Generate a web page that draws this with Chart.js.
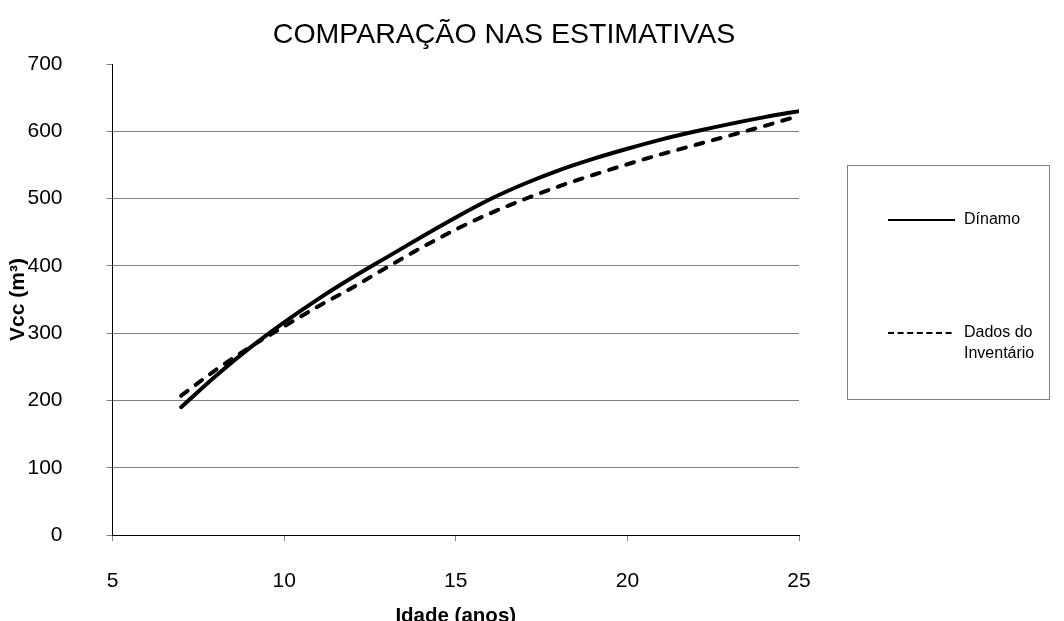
<!DOCTYPE html>
<html>
<head>
<meta charset="utf-8">
<script src="https://cdn.jsdelivr.net/npm/chart.js@4.4.1/dist/chart.umd.min.js"></script>
<style>
  html, body { margin: 0; padding: 0; background: #fff; }
</style>
</head>
<body>
<canvas id="chEst" width="1064" height="621"></canvas>
<script>
// ---- dados ----
const TITULO = 'COMPARAÇÃO NAS ESTIMATIVAS';
const idades = [7, 8, 9, 10, 11, 12, 13, 14, 15, 16, 17, 18, 19, 20, 21, 22, 23, 24, 25];
const dinamo = [190, 236, 278, 316, 351, 383, 413, 443, 472, 499, 522, 542, 559, 574, 588, 600, 611, 621, 630];
const inventario = [207, 245, 279, 310, 340, 368, 398, 427, 454, 478, 499, 518, 535, 551, 566, 580, 594, 608, 623];
const xTicks = [5, 10, 15, 20, 25];
const yTicks = [0, 100, 200, 300, 400, 500, 600, 700];
const nomes = ['Dínamo', 'Dados do Inventário'];

const FONT = "'Liberation Sans', Arial, sans-serif";
const pts = ys => idades.map((x, i) => ({ x, y: ys[i] }));

// título e legenda desenhados à mão (posições do Excel)
const extras = {
  id: 'extras',
  afterDraw(chart) {
    const c = chart.ctx;
    c.save();
    c.fillStyle = '#000';
    c.textAlign = 'center';
    c.textBaseline = 'alphabetic';
    c.font = `28.5px ${FONT}`;
    c.fillText(TITULO, 504, 43);

    // caixa da legenda
    c.strokeStyle = '#808080';
    c.lineWidth = 1;
    c.strokeRect(847.5, 165.5, 202, 234);

    c.strokeStyle = '#000';
    c.lineWidth = 2;
    c.beginPath(); c.moveTo(888, 220); c.lineTo(955, 220); c.stroke();
    c.setLineDash([6, 3.6]);
    c.beginPath(); c.moveTo(888, 333); c.lineTo(955, 333); c.stroke();
    c.setLineDash([]);

    c.font = `16px ${FONT}`;
    c.textAlign = 'left';
    c.textBaseline = 'middle';
    c.fillText(nomes[0], 964, 220);
    c.fillText('Dados do', 964, 333);
    c.fillText('Inventário', 964, 354);
    c.restore();
  }
};

new Chart(document.getElementById('chEst'), {
  type: 'line',
  data: {
    datasets: [
      { label: nomes[0], data: pts(dinamo), borderColor: '#000', borderWidth: 4,
        borderCapStyle: 'round', pointRadius: 0, cubicInterpolationMode: 'monotone' },
      { label: nomes[1], data: pts(inventario), borderColor: '#000', borderWidth: 4,
        borderDash: [8, 10], borderCapStyle: 'round', pointRadius: 0, cubicInterpolationMode: 'monotone' }
    ]
  },
  options: {
    responsive: false,
    animation: false,
    layout: { padding: { top: 64, right: 265, left: 0, bottom: 0 } },
    plugins: { legend: { display: false }, title: { display: false }, tooltip: { enabled: false } },
    scales: {
      x: {
        type: 'linear', min: 5, max: 25,
        afterBuildTicks: s => { s.ticks = xTicks.map(v => ({ value: v })); },
        afterFit: s => { s.height = 86; },
        grid: { drawOnChartArea: false, drawTicks: true, tickLength: 6, tickColor: '#808080' },
        border: { color: '#000', width: 1 },
        ticks: { color: '#000', font: { family: FONT, size: 21 }, padding: 28, maxRotation: 0 },
        title: { display: true, text: 'Idade (anos)', color: '#000', font: { family: FONT, size: 20.5, weight: 'bold' }, padding: { top: 0, bottom: -8 } }
      },
      y: {
        min: 0, max: 700,
        afterBuildTicks: s => { s.ticks = yTicks.map(v => ({ value: v })); },
        afterFit: s => { s.width = 112.5; },
        grid: {
          color: ctx => (ctx.tick && ctx.tick.value === 700) ? 'rgba(0,0,0,0)' : '#808080',
          tickColor: '#808080', tickLength: 6, lineWidth: 1
        },
        border: { color: '#000', width: 1 },
        ticks: { color: '#000', font: { family: FONT, size: 21 }, padding: 44 },
        title: { display: true, text: 'Vcc (m³)', color: '#000', font: { family: FONT, size: 21, weight: 'bold' }, padding: { top: 6, bottom: 0 } }
      }
    }
  },
  plugins: [extras]
});
</script>
</body>
</html>
